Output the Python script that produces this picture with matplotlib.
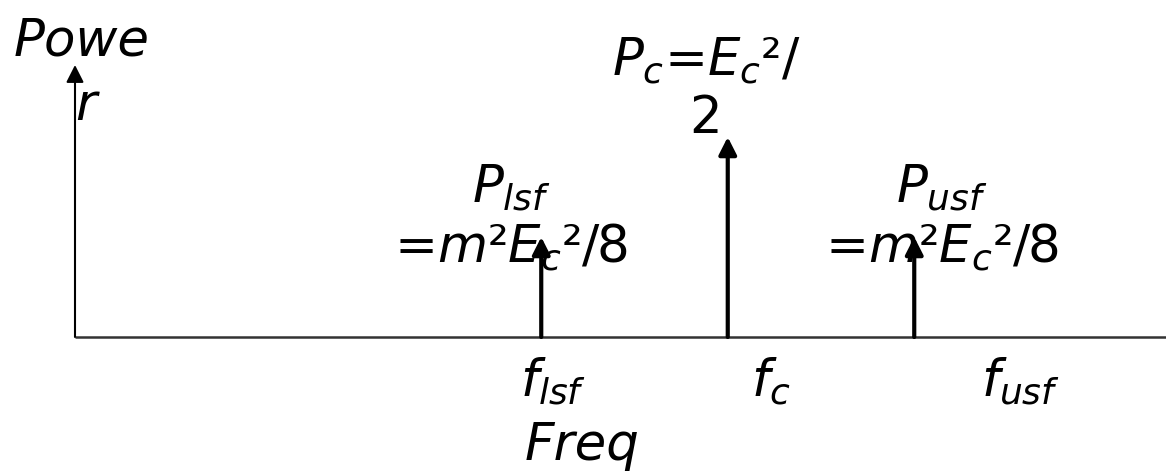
import matplotlib
matplotlib.use("Agg")
import matplotlib.pyplot as plt

# spectral lines of an AM signal (frequency position, relative power)
line_names = ["lsf", "c", "usf"]
line_freqs = [2.5, 3.5, 4.5]
line_powers = [0.25, 0.5, 0.25]

power_labels = [r"$P_{lsf}$" + "\n=" + r"$m$²$E_c$²/8",
                r"$P_c$=$E_c$²/" + "\n2",
                r"$P_{usf}$" + "\n=" + r"$m$²$E_c$²/8"]
freq_labels = [r"$f_{lsf}$", r"$f_c$", r"$f_{usf}$"]

W, H = 1166, 471
fig = plt.figure(figsize=(W / 100, H / 100), dpi=100)
ax = fig.add_axes([0, 0, 1, 1])
ax.set_xlim(-75 / 186.5, (W - 75) / 186.5)
ax.set_ylim(-(H - 337) / 400, 337 / 400)
ax.axis("off")

fs = 37
head = "-|>,head_length=0.75,head_width=0.38"

# axes
ax.plot([0, 10], [0, 0], color="#333333", lw=1.8, solid_capstyle="butt")
ax.annotate("", xy=(0, 0.68), xytext=(0, 0),
            arrowprops=dict(arrowstyle=head, mutation_scale=14,
                            color="black", lw=1.5, shrinkA=0, shrinkB=0))

# spectral lines
for f, p in zip(line_freqs, line_powers):
    ax.annotate("", xy=(f, p), xytext=(f, 0),
                arrowprops=dict(arrowstyle=head, mutation_scale=14,
                                color="black", lw=3, shrinkA=0, shrinkB=0))

# power labels (y = baseline of the last line)
label_pos = [(2.338, 0.1875), (3.383, 0.51), (4.649, 0.1875)]
for (x, y), txt in zip(label_pos, power_labels):
    ax.text(x, y, txt, fontsize=fs, ha="center", va="baseline",
            linespacing=1.2)

# frequency labels
freq_pos = [(2.563, -0.1475), (3.732, -0.1475), (5.07, -0.1475)]
for (x, y), txt in zip(freq_pos, freq_labels):
    ax.text(x, y, txt, fontsize=fs, ha="center", va="baseline")

ax.text(-0.33, 0.705, "Powe", fontsize=fs, style="italic", va="baseline")
ax.text(0.0, 0.5425, "r", fontsize=fs, style="italic", va="baseline")
ax.text(2.41, -0.3075, "Freq", fontsize=fs, style="italic", va="baseline")

fig.savefig("out.png", dpi=100)
